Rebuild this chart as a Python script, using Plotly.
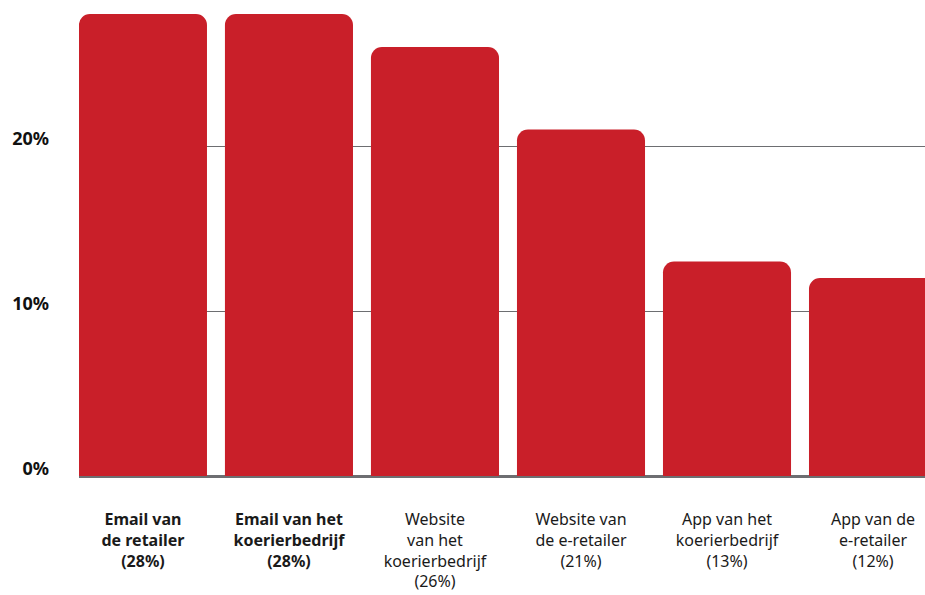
import plotly.graph_objects as go

categories = [
    "<b>Email van<br>de retailer<br>(28%)</b>",
    "<b>Email van het<br>koerierbedrijf<br>(28%)</b>",
    "Website<br>van het<br>koerierbedrijf<br>(26%)",
    "Website van<br>de e-retailer<br>(21%)",
    "App van het<br>koerierbedrijf<br>(13%)",
    "App van de<br>e-retailer<br>(12%)",
]
values = [28, 28, 26, 21, 13, 12]
tick_vals = [0, 10, 20]
tick_text = ["<b>0%</b>", "<b>10%</b>", "<b>20%</b>"]

fig = go.Figure(
    go.Bar(
        x=categories,
        y=values,
        marker=dict(color="#c91f29", line=dict(width=0)),
        hoverinfo="skip",
    )
)

fig.update_layout(
    width=925,
    height=595,
    margin=dict(l=79, r=0, t=0, b=119),
    paper_bgcolor="white",
    plot_bgcolor="white",
    bargap=0.123,
    barcornerradius=11,
    showlegend=False,
    font=dict(family="Noto Sans, Open Sans, sans-serif", color="#1a1a1a", size=16),
)

fig.update_xaxes(
    range=[-0.438, 5.356],
    showgrid=False,
    showline=False,
    ticks="",
    tickfont=dict(size=16, color="#1a1a1a"),
    ticklabelstandoff=32,
    tickangle=0,
)

fig.update_yaxes(
    range=[0, 28.85],
    tickvals=tick_vals,
    ticktext=tick_text,
    showgrid=True,
    gridcolor="#6d6e71",
    gridwidth=1,
    zeroline=True,
    zerolinecolor="#6d6e71",
    zerolinewidth=3,
    showline=False,
    ticks="",
    tickfont=dict(size=18, color="#111111"),
    ticklabelstandoff=29,
    ticklabelshift=-7,
)

fig.write_html(
    "out.html",
    config={"displayModeBar": False},
    post_script="document.body.style.margin='0';document.body.style.overflow='hidden';",
)
